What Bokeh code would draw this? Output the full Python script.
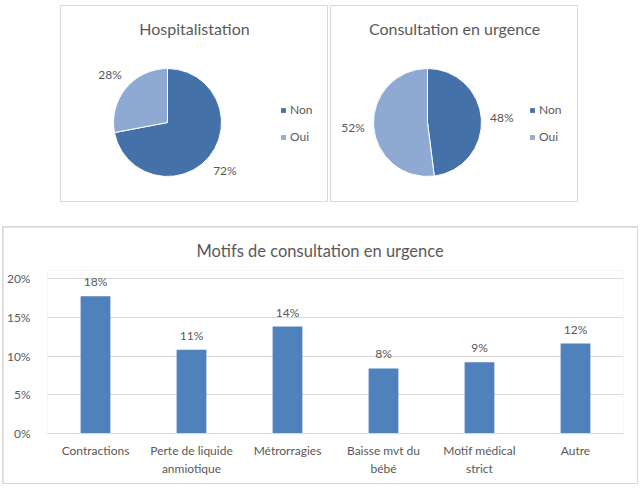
from math import pi

import numpy as np
from bokeh.core.properties import value
from bokeh.embed import file_html
from bokeh.layouts import column, row, Spacer
from bokeh.models import (ColumnDataSource, FixedTicker, Label, Legend,
                          LegendItem, NumeralTickFormatter, Range1d)
from bokeh.plotting import figure
from bokeh.resources import INLINE

# --- data -------------------------------------------------------------
answers = ["Non", "Oui"]
hosp_share = [0.72, 0.28]
urg_share = [0.48, 0.52]

motifs = ["Contractions", "Perte de liquide\nanmiotique", "Métrorragies",
          "Baisse mvt du\nbébé", "Motif médical\nstrict", "Autre"]
motif_share = [0.177, 0.108, 0.138, 0.084, 0.092, 0.116]
y_ticks = [0, 0.05, 0.10, 0.15, 0.20]

# --- style ------------------------------------------------------------
FONT = "Lato"
TXT = "#595959"
GRID = "#d9d9d9"
PIE_COLORS = ["#4472a8", "#8eaad3"]
BAR_COLOR = "#4f81bd"
R = 54          # pie radius (px, ranges are 1 unit per pixel)
PIE_H = 197


def pie(title, shares, w, cx, legend_x):
    cy = PIE_H - 117
    p = figure(width=w, height=PIE_H, x_range=Range1d(-cx, w - cx),
               y_range=Range1d(-cy, PIE_H - cy), output_backend="svg",
               toolbar_location=None, min_border=0)
    p.axis.visible = False
    p.grid.visible = False
    p.outline_line_color = GRID
    p.border_fill_color = "white"

    shares = np.array(shares)
    ends = 0.5 * pi - 2 * pi * np.cumsum(shares)      # clockwise from 12 o'clock
    starts = ends + 2 * pi * shares
    mids = (starts + ends) / 2
    src = ColumnDataSource(dict(
        a0=ends, a1=starts, color=PIE_COLORS, name=answers,
        lx=1.38 * R * np.cos(mids), ly=1.38 * R * np.sin(mids),
        txt=[f"{round(s * 100)}%" for s in shares]))
    p.wedge(x=0, y=0, radius=R, start_angle="a0", end_angle="a1",
            fill_color="color", line_color="white", line_width=1, source=src)
    p.text(x="lx", y="ly", text="txt", source=src, text_align="center",
           text_baseline="middle", text_font=value(FONT),
           text_font_size="12px", text_color=TXT)

    p.add_layout(Label(x=w / 2 - cx, y=94, text=title, text_align="center",
                       text_baseline="middle", text_font=FONT,
                       text_font_size="16px", text_color=TXT))

    # square legend swatches: one row per answer, no position so nothing is drawn
    nan = [np.nan] * len(answers)
    sw_src = ColumnDataSource(dict(l=nan, r=nan, t=nan, b=nan, color=PIE_COLORS))
    sw = p.quad(left="l", right="r", top="t", bottom="b", fill_color="color",
                line_color=None, source=sw_src)
    legend = Legend(items=[LegendItem(label=a, renderers=[sw], index=i)
                           for i, a in enumerate(answers)],
                    location=(legend_x, 58), glyph_width=6, glyph_height=6,
                    label_height=14, spacing=12, padding=0, margin=0,
                    label_standoff=4, border_line_color=None,
                    background_fill_alpha=0, label_text_font=FONT,
                    label_text_font_size="12px", label_text_color=TXT)
    p.add_layout(legend)
    return p


p1 = pie("Hospitalistation", hosp_share, 268, 107, 220)
p2 = pie("Consultation en urgence", urg_share, 248, 97, 199)

# --- bar chart --------------------------------------------------------
# frame: 163 px tall, the 0-20 % span takes the lower 155 px of it
Y_TOP = 0.2 * 163 / 155
bar_src = ColumnDataSource(dict(motif=motifs, share=motif_share,
                                txt=[f"{round(v * 100)}%" for v in motif_share]))
p3 = figure(width=634, height=256, x_range=motifs, y_range=Range1d(0, Y_TOP),
            output_backend="svg", toolbar_location=None,
            min_border_left=44, min_border_right=14,
            min_border_top=43, min_border_bottom=50, margin=1)
p3.vbar(x="motif", top="share", width=0.31, source=bar_src,
        fill_color=BAR_COLOR, line_color=None)
p3.text(x="motif", y="share", text="txt", source=bar_src, y_offset=-7,
        text_align="center", text_baseline="bottom", text_font=value(FONT),
        text_font_size="12px", text_color=TXT)

p3.title.text = "Motifs de consultation en urgence"
p3.title.align = "left"
p3.title.offset = 149
p3.title.standoff = 20
p3.title.text_font = FONT
p3.title.text_font_size = "16.5px"
p3.title.text_font_style = "normal"
p3.title.text_color = TXT

p3.outline_line_color = None
p3.border_fill_color = "white"
p3.xgrid.grid_line_color = None
p3.ygrid.grid_line_color = GRID
p3.yaxis.ticker = FixedTicker(ticks=y_ticks)
p3.yaxis.formatter = NumeralTickFormatter(format="0%")
p3.yaxis.axis_line_color = None
p3.yaxis.major_tick_line_color = None
p3.yaxis.minor_tick_line_color = None
p3.yaxis.major_label_standoff = 11
p3.xaxis.axis_line_color = GRID
p3.xaxis.major_tick_line_color = None
p3.xaxis.major_label_standoff = 3
for ax in (p3.xaxis, p3.yaxis):
    ax.major_label_text_font = FONT
    ax.major_label_text_font_size = "12px"
    ax.major_label_text_color = TXT

# 1px grey frame around the bar chart panel
bar_panel = column(p3, styles={"background-color": GRID})

page = column(
    Spacer(width=642, height=5),
    row(Spacer(width=60, height=PIE_H), p1, Spacer(width=2, height=PIE_H), p2),
    Spacer(width=642, height=24),
    row(Spacer(width=2, height=258), bar_panel),
)

open("out.html", "w").write(file_html(page, INLINE))
